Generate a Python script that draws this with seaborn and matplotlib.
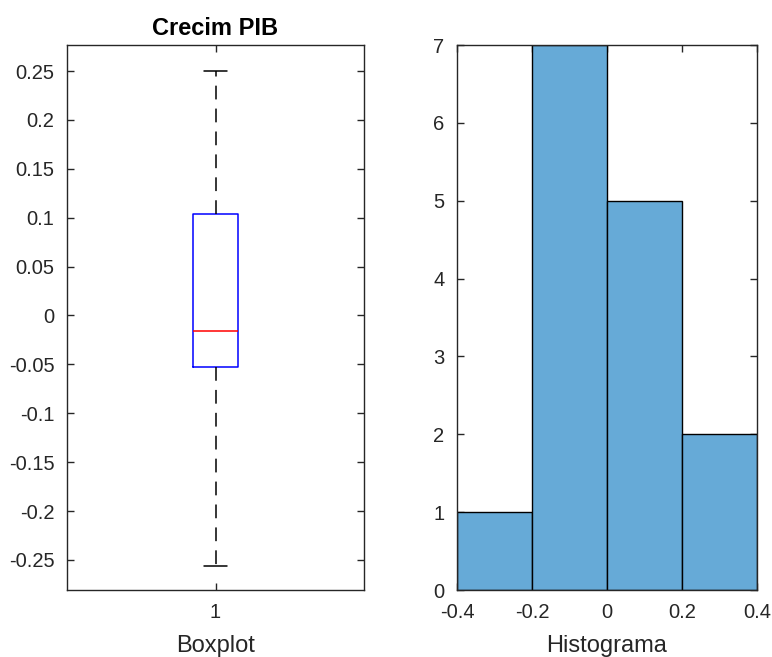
import matplotlib
matplotlib.use("Agg")
import matplotlib.pyplot as plt
import seaborn as sns
import numpy as np

# Five-number summary of GDP growth (Crecim PIB)
box_label = "1"
whisker_low = -0.256
q1 = -0.0527
median = -0.0158
q3 = 0.1038
whisker_high = 0.2505

# Histogram of the same series
bin_edges = [-0.4, -0.2, 0.0, 0.2, 0.4]
bin_counts = [1, 7, 5, 2]

y_ticks_box = [-0.25, -0.2, -0.15, -0.1, -0.05, 0, 0.05, 0.1, 0.15, 0.2, 0.25]
y_tick_labels_box = ["-0.25", "-0.2", "-0.15", "-0.1", "-0.05", "0", "0.05", "0.1", "0.15", "0.2", "0.25"]
x_ticks_hist = [-0.4, -0.2, 0, 0.2, 0.4]
x_tick_labels_hist = ["-0.4", "-0.2", "0", "0.2", "0.4"]

sns.set_theme(style="white")
plt.rcParams["font.family"] = ["Liberation Sans", "DejaVu Sans"]

text_col = "#262626"
fig = plt.figure(figsize=(7.72, 6.57), dpi=100)
ax1 = fig.add_axes([67 / 772, 1 - 590 / 657, 297 / 772, 545 / 657])
ax2 = fig.add_axes([457 / 772, 1 - 590 / 657, 300 / 772, 545 / 657])

# --- Boxplot panel ---
stats = [{
    "whislo": whisker_low, "q1": q1, "med": median, "q3": q3,
    "whishi": whisker_high, "fliers": [], "label": box_label,
}]
ax1.bxp(
    stats, positions=[1], widths=0.15, showfliers=False,
    boxprops=dict(color="#0000ff", linewidth=1.1),
    medianprops=dict(color="#ff0000", linewidth=1.1),
    whiskerprops=dict(color="black", linewidth=1.1, linestyle=(0, (9, 6))),
    capprops=dict(color="black", linewidth=1.1),
    capwidths=0.075,
)
ax1.set_xlim(0.5, 1.5)
ax1.set_ylim(-0.2807, 0.2766)
ax1.set_yticks(y_ticks_box)
ax1.set_yticklabels(y_tick_labels_box)
ax1.set_xticks([1])
ax1.set_xticklabels([box_label])
ax1.set_title("Crecim PIB", fontsize=17, fontweight="bold", color="black", pad=7)
ax1.set_xlabel("Boxplot", fontsize=17, color=text_col, labelpad=10)

# --- Histogram panel ---
bin_centers = [(a + b) / 2 for a, b in zip(bin_edges[:-1], bin_edges[1:])]
sns.histplot(
    x=bin_centers, weights=bin_counts, bins=bin_edges, ax=ax2,
    color="#66aad7", alpha=1.0, edgecolor="black", linewidth=1.0,
)
ax2.set_xlim(-0.4, 0.4)
ax2.set_ylim(0, 7)
ax2.set_xticks(x_ticks_hist)
ax2.set_xticklabels(x_tick_labels_hist)
ax2.set_yticks(range(0, 8))
ax2.set_ylabel("")
ax2.set_xlabel("Histograma", fontsize=17, color=text_col, labelpad=10)

for ax in (ax1, ax2):
    for s in ax.spines.values():
        s.set_visible(True)
        s.set_color(text_col)
        s.set_linewidth(1.0)
    ax.tick_params(axis="both", which="both", direction="in", length=5, width=1.0,
                   color=text_col, labelcolor=text_col, labelsize=14.5,
                   top=True, right=True, bottom=True, left=True, pad=9)
    ax.grid(False)

fig.savefig("out.png", dpi=100, facecolor="white")
